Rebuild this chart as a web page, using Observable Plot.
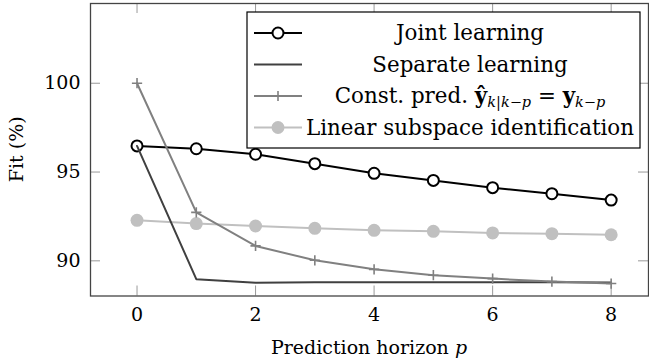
<!DOCTYPE html>
<html><head><meta charset="utf-8">
<script src="https://cdn.jsdelivr.net/npm/d3@7"></script>
<script src="https://cdn.jsdelivr.net/npm/@observablehq/plot@0.6"></script>
<style>
body{margin:0;background:#fff}
#chart{width:649px;height:362px}
</style>
</head><body><div id="chart"></div>
<script>
// ---- data ----
const horizons   = [0, 1, 2, 3, 4, 5, 6, 7, 8];
const jointFit   = [96.47, 96.31, 96.0, 95.47, 94.93, 94.53, 94.12, 93.78, 93.42];
const separateFit= [96.47, 88.97, 88.77, 88.8, 88.8, 88.8, 88.79, 88.79, 88.78];
const constFit   = [100.0, 92.73, 90.84, 90.03, 89.52, 89.19, 89.0, 88.83, 88.72];
const subspaceFit= [92.28, 92.1, 91.96, 91.83, 91.72, 91.66, 91.57, 91.53, 91.47];
const xTicks = [0, 2, 4, 6, 8];
const yTicks = [90, 95, 100];
const xLabel = "Prediction horizon ";
const xLabelVar = "p";
const yLabel = "Fit (%)";
const seriesNames = ["Joint learning", "Separate learning", "Const. pred.", "Linear subspace identification"];

const mk = arr => horizons.map((p, i) => ({p, fit: arr[i]}));
const joint = mk(jointFit), separate = mk(separateFit), cpred = mk(constFit), subspace = mk(subspaceFit);

const W = 649, H = 362;
const mL = 90, mR = 1, mT = 3, mB = 66.5;
const frameH = H - mT - mB, frameW = W - mL - mR;
const tick = 10;
const font = "DejaVu Serif";

const plot = Plot.plot({
  width: W, height: H,
  marginLeft: mL, marginRight: mR, marginTop: mT, marginBottom: mB,
  x: {domain: [-0.785, 8.63]},
  y: {domain: [88.02, 104.49]},
  style: {fontFamily: font, fontSize: "19px", background: "#fff", color: "#000", overflow: "visible"},
  marks: [
    Plot.axisX(xTicks, {tickSize: 0, tickPadding: 11, label: null, fontSize: 19}),
    Plot.axisY(yTicks, {tickSize: 0, tickPadding: 10, label: null, fontSize: 19}),
    Plot.ruleX(xTicks, {insetTop: frameH - tick, stroke: "#999", strokeWidth: 1}),
    Plot.ruleX(xTicks, {insetBottom: frameH - tick, stroke: "#999", strokeWidth: 1}),
    Plot.ruleY(yTicks, {insetRight: frameW - tick, stroke: "#999", strokeWidth: 1}),
    Plot.ruleY(yTicks, {insetLeft: frameW - tick, stroke: "#999", strokeWidth: 1}),
    Plot.line(subspace, {x: "p", y: "fit", stroke: "#c0c0c0", strokeWidth: 2}),
    Plot.dot(subspace, {x: "p", y: "fit", r: 6.5, fill: "#c0c0c0", stroke: "none"}),
    Plot.line(joint, {x: "p", y: "fit", stroke: "#000", strokeWidth: 2}),
    Plot.dot(joint, {x: "p", y: "fit", r: 5.5, fill: "#fff", stroke: "#000", strokeWidth: 2}),
    Plot.line(separate, {x: "p", y: "fit", stroke: "#404040", strokeWidth: 2}),
    Plot.line(cpred, {x: "p", y: "fit", stroke: "#808080", strokeWidth: 2}),
    Plot.dot(cpred, {x: "p", y: "fit", symbol: "plus", r: 3.4, stroke: "#808080", strokeWidth: 1.6}),
    Plot.frame({stroke: "#444", strokeWidth: 1.3})
  ]
});
document.getElementById("chart").appendChild(plot);

// ---- labels and legend ----
const svg = d3.select(plot);

const xl = svg.append("text").attr("x", mL + frameW / 2).attr("y", 354)
  .attr("text-anchor", "middle").attr("font-family", font).attr("font-size", 19).attr("fill", "#000");
xl.append("tspan").text(xLabel);
xl.append("tspan").attr("font-style", "italic").text(xLabelVar);

svg.append("text").attr("transform", `translate(23,${mT + frameH / 2}) rotate(-90)`)
  .attr("text-anchor", "middle").attr("font-family", font).attr("font-size", 19).attr("fill", "#000")
  .text(yLabel);

const lg = svg.append("g");
lg.append("rect").attr("x", 247).attr("y", 12).attr("width", 393).attr("height", 136)
  .attr("fill", "#fff").attr("stroke", "#000").attr("stroke-width", 1.2);
const rowY = [33, 64.5, 96, 127.5];
const lx1 = 254, lx2 = 302, lmx = 278, tx = 470;
const lfs = 21.4, sfs = 14.5;
const styles = [
  {stroke: "#000", mark: "circle"},
  {stroke: "#404040", mark: null},
  {stroke: "#808080", mark: "plus"},
  {stroke: "#c0c0c0", mark: "disc"}
];
styles.forEach((s, i) => {
  const y = rowY[i];
  lg.append("line").attr("x1", lx1).attr("x2", lx2).attr("y1", y).attr("y2", y)
    .attr("stroke", s.stroke).attr("stroke-width", 2);
  if (s.mark === "circle") lg.append("circle").attr("cx", lmx).attr("cy", y).attr("r", 5.5)
    .attr("fill", "#fff").attr("stroke", "#000").attr("stroke-width", 2);
  if (s.mark === "disc") lg.append("circle").attr("cx", lmx).attr("cy", y).attr("r", 6.5).attr("fill", "#c0c0c0");
  if (s.mark === "plus") lg.append("path").attr("d", `M${lmx - 5},${y}H${lmx + 5}M${lmx},${y - 5}V${y + 5}`)
    .attr("stroke", s.stroke).attr("stroke-width", 1.6);
  const t = lg.append("text").attr("x", tx).attr("y", y + 7).attr("text-anchor", "middle")
    .attr("font-family", font).attr("font-size", lfs).attr("fill", "#000");
  if (i !== 2) { t.text(seriesNames[i]); return; }
  t.append("tspan").text(seriesNames[2] + " ");
  t.append("tspan").attr("font-weight", "bold").text("ŷ");
  t.append("tspan").attr("font-style", "italic").attr("font-size", sfs).attr("dy", 4).text("k|k\u2212p");
  t.append("tspan").attr("dy", -4).text(" = ");
  t.append("tspan").attr("font-weight", "bold").text("y");
  t.append("tspan").attr("font-style", "italic").attr("font-size", sfs).attr("dy", 4).text("k\u2212p");
});
</script>
</body></html>
